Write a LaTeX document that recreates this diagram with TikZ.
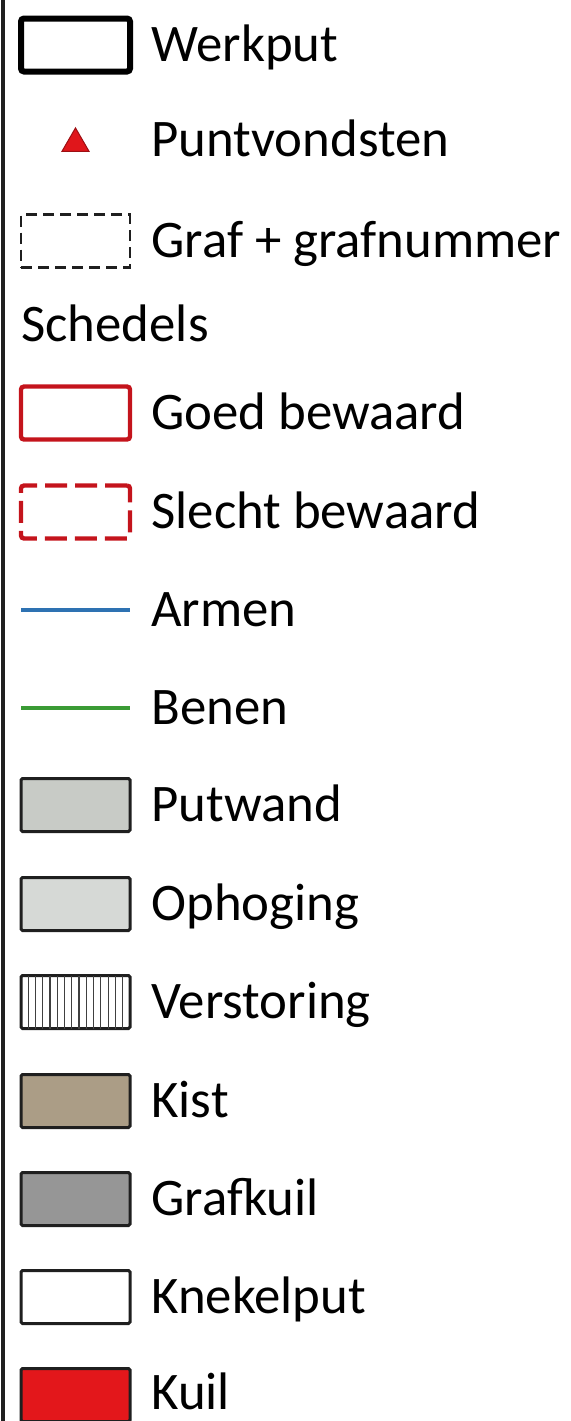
\documentclass[tikz,border=0pt]{standalone}
\usepackage{fontspec}
\setmainfont{Carlito}
\usepackage{xcolor}
\usetikzlibrary{positioning,shapes.geometric}
\definecolor{legred}{HTML}{C4141C}
\definecolor{legtri}{HTML}{E0161B}
\definecolor{legblue}{HTML}{2E72B2}
\definecolor{leggreen}{HTML}{3A9B35}
\definecolor{legedge}{HTML}{1F1F1F}
\definecolor{legputwand}{HTML}{C8CBC6}
\definecolor{legophoging}{HTML}{D6D9D6}
\definecolor{legkist}{HTML}{AB9D86}
\definecolor{leggrafkuil}{HTML}{969696}
\definecolor{legkuil}{HTML}{E3171B}

\begin{document}
\begin{tikzpicture}[
  x=0.5pt, y=-0.5pt,
  font=\fontsize{26.4}{30}\selectfont,
  swatch/.style = {minimum width=54.5pt, minimum height=26.5pt, inner sep=0pt, outer sep=0pt},
  werkbox/.style = {swatch, draw=black, line width=3pt, rounded corners=1.5pt},
  grafbox/.style = {swatch, draw=legedge, line width=1.3pt, dash pattern=on 5.5pt off 3pt},
  goedbox/.style = {swatch, draw=legred, line width=2.2pt, rounded corners=1.5pt},
  slechtbox/.style = {swatch, draw=legred, line width=2.2pt, rounded corners=1.5pt,
                      dash pattern=on 11pt off 4pt},
  fillbox/.style = {swatch, draw=legedge, line width=1.5pt, rounded corners=0.8pt},
  tri/.style = {regular polygon, regular polygon sides=3, minimum size=15.6pt,
                inner sep=0pt, fill=legtri, draw=legtri!70!black, line width=0.5pt},
  bone/.style = {line width=2.4pt},
  lbl/.style = {anchor=west, inner sep=0pt, text height=16.7pt, text depth=0pt},
]
\useasboundingbox (0,0) rectangle (571,1421);

% ---------- left frame line ----------
\draw[line width=2pt, legedge] (2.5,0) -- (2.5,1421);

% ---------- outlines ----------
\node[werkbox] (werkput) at (75.5,45) {};
\node[tri] (punt) at (75.5,143.5) {};
\node[grafbox] (graf) at (75.5,241) {};

\node[lbl, right=10.5pt of werkput] (werkput-t) {Werkput};
\node[lbl] (punt-t) at (151,140) {Puntvondsten};
\node[lbl, right=10.5pt of graf] (graf-t) {Graf + grafnummer};

% ---------- schedels ----------
\node[lbl] (schedels) at (21,325) {Schedels};
\node[goedbox] (goed) at (75.5,413) {};
\node[slechtbox] (slecht) at (75.5,512) {};
\node[lbl, right=10.5pt of goed] (goed-t) {Goed bewaard};
\node[lbl, right=10.5pt of slecht] (slecht-t) {Slecht bewaard};

% ---------- bones (lines) ----------
\node[swatch] (armen) at (75.5,610) {};
\node[swatch] (benen) at (75.5,708) {};
\draw[bone, legblue] (armen.west) -- (armen.east);
\draw[bone, leggreen] (benen.west) -- (benen.east);
\node[lbl, right=10.5pt of armen] (armen-t) {Armen};
\node[lbl, right=10.5pt of benen] (benen-t) {Benen};

% ---------- filled areas ----------
\node[fillbox, fill=legputwand] (putwand) at (75.5,805) {};
\node[fillbox, fill=legophoging] (ophoging) at (75.5,904) {};
\node[fillbox, fill=white] (verstoring) at (75.5,1002) {};
\foreach \i in {1,...,14}
  \draw[line width=0.6pt, black!75] ([xshift=\i*3.63pt]verstoring.north west) -- ([xshift=\i*3.63pt]verstoring.south west);
\node[fillbox, fill=legkist] (kist) at (75.5,1101) {};
\node[fillbox, fill=leggrafkuil] (grafkuil) at (75.5,1199) {};
\node[fillbox, fill=white] (knekelput) at (75.5,1297) {};
\node[fillbox, fill=legkuil] (kuil) at (75.5,1395) {};

\node[lbl, right=10.5pt of putwand] (putwand-t) {Putwand};
\node[lbl, right=10.5pt of ophoging] (ophoging-t) {Ophoging};
\node[lbl, right=10.5pt of verstoring] (verstoring-t) {Verstoring};
\node[lbl, right=10.5pt of kist] (kist-t) {Kist};
\node[lbl, right=10.5pt of grafkuil] (grafkuil-t) {Grafkuil};
\node[lbl, right=10.5pt of knekelput] (knekelput-t) {Knekelput};
\node[lbl, right=10.5pt of kuil, yshift=1pt] (kuil-t) {Kuil};

\end{tikzpicture}
\end{document}
